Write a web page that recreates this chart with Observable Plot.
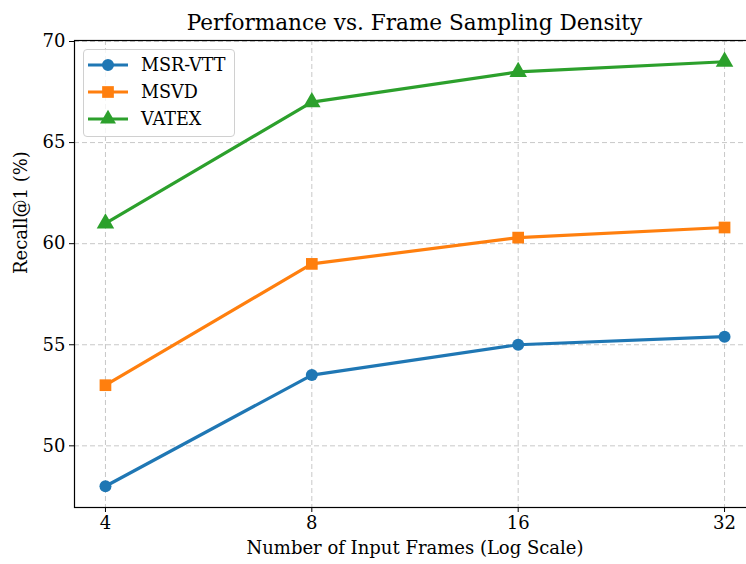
<!DOCTYPE html>
<html>
<head>
<meta charset="utf-8">
<script src="https://cdn.jsdelivr.net/npm/d3@7"></script>
<script src="https://cdn.jsdelivr.net/npm/@observablehq/plot@0.6"></script>
<style>
  html, body { margin: 0; padding: 0; background: #fff; }
  #wrap { position: relative; width: 746px; height: 564px; font-family: "DejaVu Serif", serif; }
  #title { position: absolute; left: 74px; width: 681px; top: 10px; text-align: center; font-size: 21.6px; color: #000; }
  #legend { position: absolute; left: 83px; top: 49px; width: 150px; height: 86px; border: 1px solid #d0d0d0; border-radius: 4px; background: rgba(255,255,255,0.8); }
  .row { position: absolute; left: 4px; height: 24px; display: flex; align-items: center; font-size: 17.6px; }
  .row svg { margin-right: 13px; }
</style>
</head>
<body>
<div id="wrap">
  <div id="chart"></div>
  <div id="title">Performance vs. Frame Sampling Density</div>
  <div id="legend"></div>
</div>
<script>
const frames = [4, 8, 16, 32];
const seriesNames = ["MSR-VTT", "MSVD", "VATEX"];
const msrvtt = [48.0, 53.5, 55.0, 55.4];
const msvd = [53.0, 59.0, 60.3, 60.8];
const vatex = [61.0, 67.0, 68.5, 69.0];
const yTicks = [50, 55, 60, 65, 70];
const colors = ["#1f77b4", "#ff7f0e", "#2ca02c"];
const symbols = ["circle", "square", "triangle"];

const values = [msrvtt, msvd, vatex];
const data = [];
seriesNames.forEach((s, i) => frames.forEach((f, j) => data.push({series: s, frames: f, recall: values[i][j]})));

const font = "DejaVu Serif, serif";
const lo = Math.log2(4) - 0.15, hi = Math.log2(32) + 0.15;

const chart = Plot.plot({
  width: 746,
  height: 564,
  marginLeft: 74,
  marginRight: -9,
  marginTop: 40,
  marginBottom: 57,
  style: {fontFamily: font, background: "white", overflow: "hidden"},
  x: {type: "log", base: 2, domain: [2 ** lo, 2 ** hi], ticks: frames, tickFormat: d => String(d)},
  y: {domain: [46.95, 70.05], ticks: yTicks},
  color: {domain: seriesNames, range: colors},
  symbol: {domain: seriesNames, range: symbols},
  marks: [
    Plot.gridX(frames, {stroke: "#b0b0b0", strokeOpacity: 0.7, strokeDasharray: "5,3", strokeWidth: 1}),
    Plot.gridY(yTicks, {stroke: "#b0b0b0", strokeOpacity: 0.7, strokeDasharray: "5,3", strokeWidth: 1}),
    Plot.line(data, {x: "frames", y: "recall", z: "series", stroke: "series", strokeWidth: 3.2}),
    Plot.dot(data.filter(d => d.series === "MSR-VTT"), {x: "frames", y: "recall", fill: "series", symbol: "series", r: 6}),
    Plot.dot(data.filter(d => d.series === "MSVD"), {x: "frames", y: "recall", fill: "series", symbol: "series", r: 6.6}),
    Plot.dot(data.filter(d => d.series === "VATEX"), {x: "frames", y: "recall", fill: "series", symbol: "series", r: 6.5}),
    Plot.frame({stroke: "#000", strokeWidth: 1.2}),
    Plot.axisX(frames, {tickSize: 5, tickPadding: 4, fontSize: 18, label: null, stroke: "#000"}),
    Plot.axisY(yTicks, {tickSize: 5, tickPadding: 4, fontSize: 18, label: null, stroke: "#000"}),
    Plot.text(["Number of Input Frames (Log Scale)"], {frameAnchor: "bottom", dy: 46, fontSize: 18, fill: "#000"}),
    Plot.text(["Recall@1 (%)"], {frameAnchor: "left", dx: -53, rotate: -90, fontSize: 18, fill: "#000"})
  ]
});
document.getElementById("chart").appendChild(chart);

const legend = document.getElementById("legend");
const tops = [3, 30, 57];
seriesNames.forEach((s, i) => {
  const row = document.createElement("div");
  row.className = "row";
  row.style.top = tops[i] + "px";
  const sym = d3.symbol(i === 0 ? d3.symbolCircle : i === 1 ? d3.symbolSquare : d3.symbolTriangle, i === 0 ? 113 : i === 1 ? 137 : 110)();
  row.innerHTML = `<svg width="40" height="24"><line x1="0" x2="40" y1="12" y2="12" stroke="${colors[i]}" stroke-width="3.2"/><path d="${sym}" transform="translate(20,12)" fill="${colors[i]}"/></svg><span>${s}</span>`;
  legend.appendChild(row);
});
</script>
</body>
</html>
